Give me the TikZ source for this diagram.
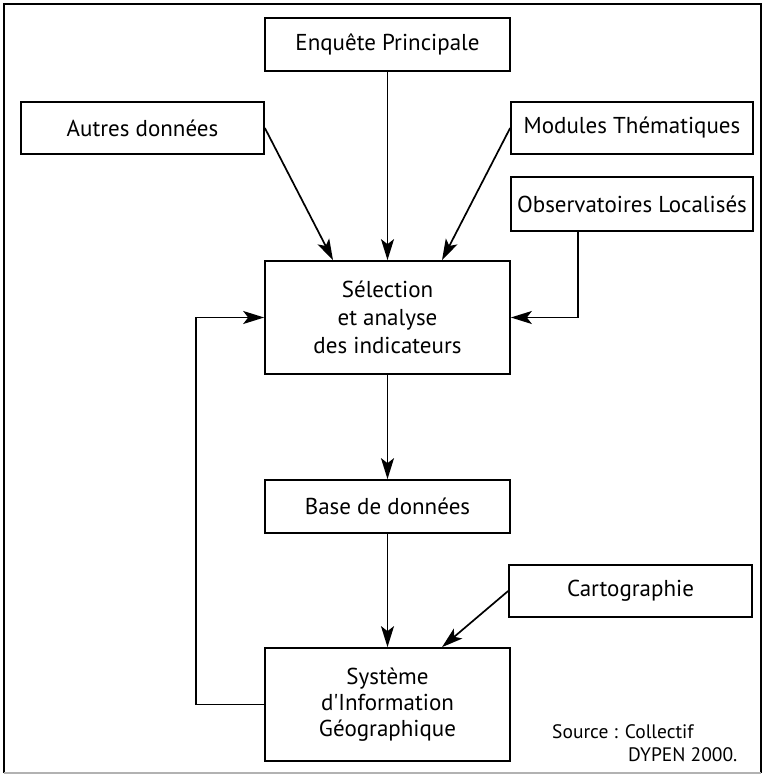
\documentclass[tikz,border=0pt]{standalone}
\usepackage{fontspec}
\setmainfont{PT Sans}[Ligatures=TeXOff]
\usetikzlibrary{arrows.meta}
\begin{document}
\begin{tikzpicture}[x=1pt,y=-1pt,
  box/.style={draw=black,line width=1.7pt,rectangle,inner sep=0pt,align=center,
    font=\fontsize{23}{28}\selectfont},
  conn/.style={line width=1.7pt,-{Stealth[length=21pt,width=13pt,inset=5pt]}},
  srctext/.style={inner sep=0pt,anchor=west,font=\fontsize{19.5}{24}\selectfont}]
\useasboundingbox (0,0) rectangle (763,775);
% frame
\draw[line width=1.5pt] (4,773) -- (4,4) -- (761,4) -- (761,773);
\draw[line width=1.5pt,gray!60] (4,773) -- (761,773);
% nodes
\node[box,minimum width=245pt,minimum height=53pt] (enq) at (387.5,44.5) {Enquête Principale};
\node[box,minimum width=243pt,minimum height=52pt] (aut) at (142.5,128) {Autres données};
\node[box,minimum width=242pt,minimum height=52pt] (mod) at (632,128) {Modules Thématiques};
\node[box,minimum width=242pt,minimum height=54pt] (obs) at (632,204) {Observatoires Localisés};
\node[box,minimum width=245pt,minimum height=113pt] (sel) at (387.5,317.5) {Sélection\\et analyse\\des indicateurs};
\node[box,minimum width=245pt,minimum height=53pt] (base) at (387.5,506.5) {Base de données};
\node[box,minimum width=243pt,minimum height=52pt] (carto) at (630.5,591) {Cartographie};
\node[box,minimum width=245pt,minimum height=113pt,font=\fontsize{23}{26}\selectfont] (sys) at (387.5,704.5) {Système\\d'Information\\Géographique};
\node[srctext] (src1) at (552,732) {Source : Collectif};
\node[srctext] (src2) at (628,755) {DYPEN 2000.};
% connectors
\coordinate (selA) at ([xshift=-54.5pt]sel.north);
\coordinate (selB) at ([xshift=54.5pt]sel.north);
\coordinate (sysB) at ([xshift=54.5pt]sys.north);
\draw[conn] (aut.east) -- (selA);
\draw[conn] (enq.south) -- (sel.north);
\draw[conn] (mod.west) -- (selB);
\coordinate (obsbend) at (578,317.5);
\draw[conn] ([xshift=-54pt]obs.south) -- (obsbend) -- (sel.east);
\draw[conn] (sel.south) -- (base.north);
\draw[conn] (base.south) -- (sys.north);
\draw[conn] (carto.west) -- (sysB);
\coordinate (fbA) at (196,704.5);
\coordinate (fbB) at (196,317.5);
\draw[conn] (sys.west) -- (fbA) -- (fbB) -- (sel.west);
\end{tikzpicture}
\end{document}
